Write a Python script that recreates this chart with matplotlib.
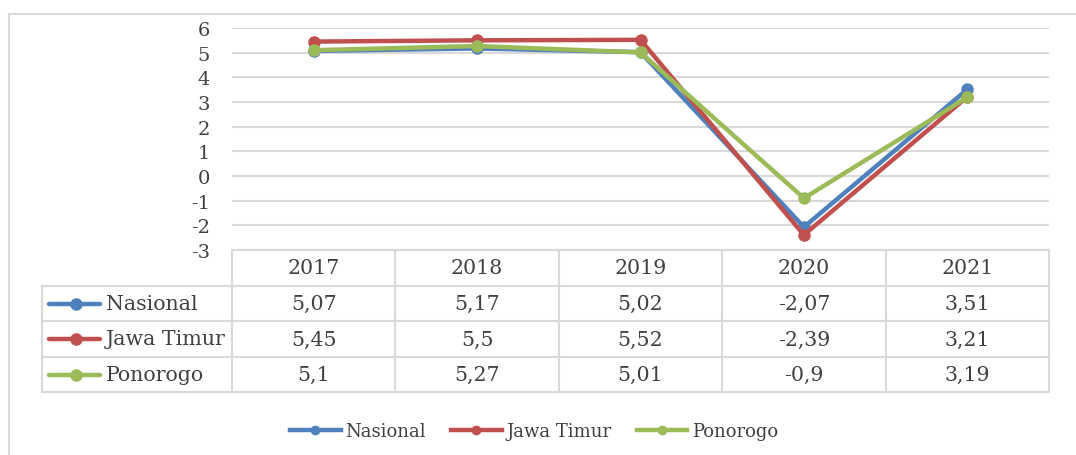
import matplotlib.pyplot as plt
from matplotlib.lines import Line2D
from matplotlib.patches import Rectangle

years = ['2017', '2018', '2019', '2020', '2021']
names = ['Nasional', 'Jawa Timur', 'Ponorogo']
nasional = [5.07, 5.17, 5.02, -2.07, 3.51]
jatim = [5.45, 5.5, 5.52, -2.39, 3.21]
ponorogo = [5.1, 5.27, 5.01, -0.9, 3.19]
colors = ['#4F81BD', '#C0504D', '#9BBB59']
series = [nasional, jatim, ponorogo]

W, H = 1076, 456
plt.rcParams['font.family'] = ['DejaVu Serif']
plt.rcParams['axes.unicode_minus'] = False
fig = plt.figure(figsize=(W / 100, H / 100), dpi=100)

def fx(px):
    return px / W

def fy(py):
    return 1 - py / H

grid_c = '#D9D9D9'
txt_c = '#404040'
fs = 14.8

# outer border (only left and top visible)
fig.add_artist(Rectangle((fx(9), fy(470)), fx(1200) - fx(9), fy(15) - fy(470),
                         transform=fig.transFigure, fill=False, ec=grid_c, lw=1.5))

# plot area
x0, x1, ytop, ybot = 232, 1049, 29, 251
ax = fig.add_axes([fx(x0), fy(ybot), fx(x1) - fx(x0), fy(ytop) - fy(ybot)])
ax.set_xlim(-0.5, len(years) - 0.5)
ax.set_ylim(-3, 6)
ax.set_yticks(range(-3, 7))
ax.yaxis.grid(True, color=grid_c, lw=1.5)
ax.set_axisbelow(True)
for s in ax.spines.values():
    s.set_visible(False)
ax.tick_params(axis='y', length=0, pad=16, labelsize=14, labelcolor=txt_c)
ax.set_xticks([])

xs = range(len(years))
for vals, c in zip(series, colors):
    ax.plot(xs, vals, color=c, lw=3.2, marker='o', ms=8, solid_capstyle='round')

# data table
col_w = (x1 - x0) / len(years)
row_y = [251, 287, 322, 358, 393]
lab_x = 42

def hline(y, xa, xb):
    fig.add_artist(Line2D([fx(xa), fx(xb)], [fy(y), fy(y)], transform=fig.transFigure,
                          color=grid_c, lw=1.5))

def vline(x, ya, yb):
    fig.add_artist(Line2D([fx(x), fx(x)], [fy(ya), fy(yb)], transform=fig.transFigure,
                          color=grid_c, lw=1.5))

hline(row_y[0], x0, x1)
for y in row_y[1:]:
    hline(y, lab_x, x1)
vline(lab_x, row_y[1], row_y[-1])
for i in range(len(years) + 1):
    vline(x0 + i * col_w, row_y[0], row_y[-1])

for i, yr in enumerate(years):
    fig.text(fx(x0 + (i + 0.5) * col_w), fy((row_y[0] + row_y[1]) / 2), yr,
             ha='center', va='center', fontsize=fs, color=txt_c)

for r, (nm, vals, c) in enumerate(zip(names, series, colors)):
    yc = (row_y[r + 1] + row_y[r + 2]) / 2
    fig.add_artist(Line2D([fx(49), fx(100)], [fy(yc), fy(yc)], transform=fig.transFigure,
                          color=c, lw=3.2, solid_capstyle='round'))
    fig.add_artist(Line2D([fx(76)], [fy(yc)], transform=fig.transFigure,
                          color=c, marker='o', ms=8))
    fig.text(fx(106), fy(yc), nm, ha='left', va='center', fontsize=fs, color=txt_c)
    for i, v in enumerate(vals):
        lab = ('%g' % v).replace('.', ',')
        fig.text(fx(x0 + (i + 0.5) * col_w), fy(yc), lab,
                 ha='center', va='center', fontsize=fs, color=txt_c)

# bottom legend
handles = [Line2D([], [], color=c, lw=3.2, marker='o', ms=6) for c in colors]
fig.legend(handles, names, loc='center', bbox_to_anchor=(fx(534), fy(432)), ncol=3,
           frameon=False, fontsize=13, handlelength=2.8, handletextpad=0.25,
           columnspacing=1.4, labelcolor=txt_c)

fig.savefig('out.png', dpi=100)
